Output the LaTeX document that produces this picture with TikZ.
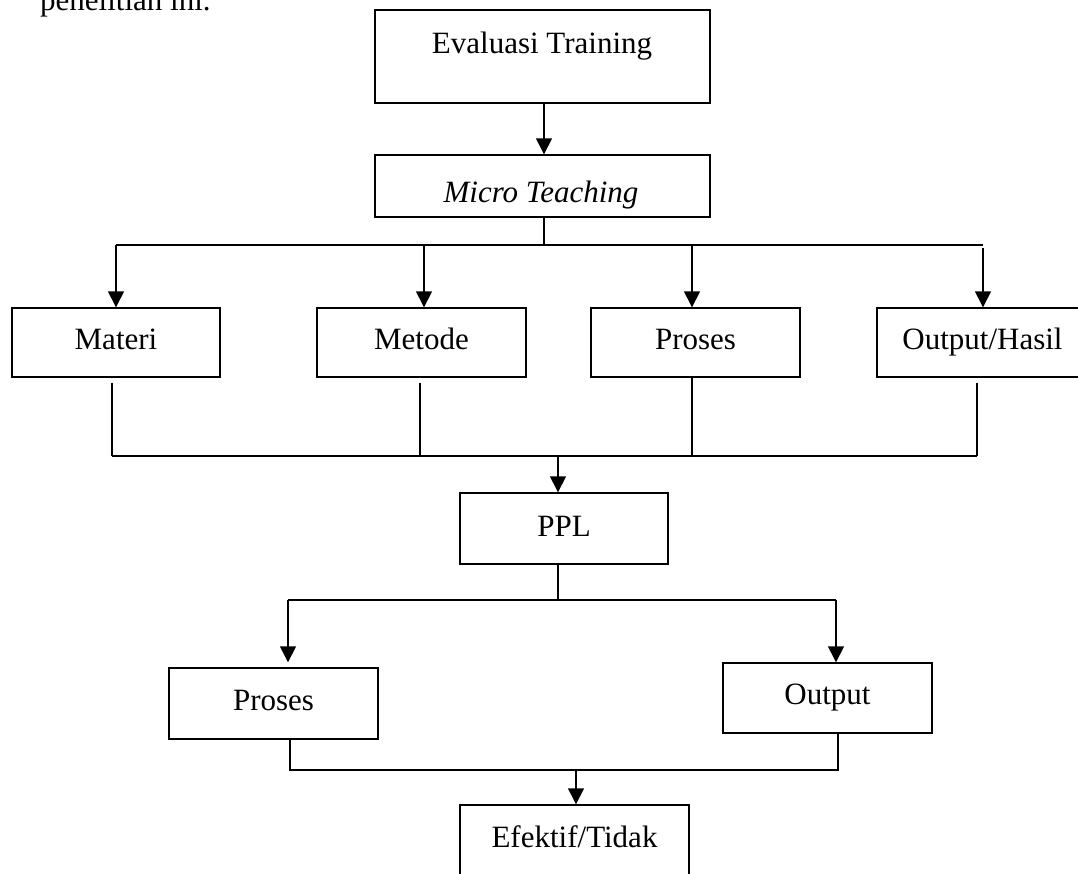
\documentclass[tikz,border=0pt]{standalone}
\usepackage{fontspec}
\setmainfont{Liberation Serif}
\usetikzlibrary{arrows.meta}
\tikzset{
  box/.style={draw=black, line width=1.4pt, rectangle, inner sep=0pt},
  lbl/.style={anchor=base, inner sep=0pt, font=\fontsize{31}{37}\selectfont},
  conn/.style={draw=black, line width=1.4pt},
  arr/.style={conn, -{Triangle[width=16pt,length=16pt]}}
}
\begin{document}
\begin{tikzpicture}[x=1pt,y=-1pt]
\useasboundingbox (0,0) rectangle (1078,873);
% header text (cut at top)
\node[anchor=base west, inner sep=0pt, font=\fontsize{31}{37}\selectfont] (hdr) at (40,10) {penelitian ini.};
% boxes
\node[box, minimum width=335pt, minimum height=93pt] (eval) at (542.5,56.5) {};
\node[lbl] (evalt) at (542,53) {Evaluasi Training};
\node[box, minimum width=335pt, minimum height=62pt] (micro) at (542.5,186) {};
\node[lbl] (microt) at (541,202) {\itshape Micro Teaching};
\node[box, minimum width=208pt, minimum height=69pt] (materi) at (116,342.5) {};
\node[lbl] (materit) at (116,349) {Materi};
\node[box, minimum width=209pt, minimum height=69pt] (metode) at (421.5,342.5) {};
\node[lbl] (metodet) at (421.5,349) {Metode};
\node[box, minimum width=209pt, minimum height=69pt] (proses) at (695.5,342.5) {};
\node[lbl] (prosest) at (695.5,349) {Proses};
\node[box, minimum width=211pt, minimum height=69pt] (hasil) at (982.5,342.5) {};
\node[lbl] (hasilt) at (982.5,349) {Output/Hasil};
\node[box, minimum width=208pt, minimum height=71pt] (ppl) at (564,528.5) {};
\node[lbl] (pplt) at (564,536) {PPL};
\node[box, minimum width=209pt, minimum height=71pt] (proses2) at (273.5,703.5) {};
\node[lbl] (proses2t) at (273.5,710) {Proses};
\node[box, minimum width=209pt, minimum height=70pt] (output) at (827.5,698) {};
\node[lbl] (outputt) at (827.5,704) {Output};
\node[box, minimum width=229pt, minimum height=100pt] (efek) at (574.5,855) {};
\node[lbl] (efekt) at (574.5,847) {Efektif/Tidak};
% junction coordinates
\coordinate (a0) at (544,245);
\coordinate (a1) at (116,245);
\coordinate (a2) at (424,245);
\coordinate (a3) at (692,245);
\coordinate (a4) at (983,245);
\coordinate (b1) at (112,456);
\coordinate (b2) at (420,456);
\coordinate (b3) at (692,456);
\coordinate (b4) at (977,456);
\coordinate (b0) at (558,456);
\coordinate (c0) at (558,600);
\coordinate (c1) at (288,600);
\coordinate (c2) at (836,600);
\coordinate (d1) at (290,770);
\coordinate (d2) at (838,770);
\coordinate (d0) at (576,770);
% connectors
\draw[arr] (eval.south -| a0) -- (micro.north -| a0);
\draw[conn] (micro.south -| a0) -- (a0);
\draw[conn] (a1) -- (a4);
\draw[arr] (a1) -- (materi.north -| a1);
\draw[arr] (a2) -- (metode.north -| a2);
\draw[arr] (a3) -- (proses.north -| a3);
\draw[arr] ([yshift=-3pt]a4) -- (hasil.north -| a4);
\draw[conn] ([yshift=-5pt]materi.south -| b1) -- (b1);
\draw[conn] ([yshift=-5pt]metode.south -| b2) -- (b2);
\draw[conn] (proses.south -| b3) -- (b3);
\draw[conn] ([yshift=-5pt]hasil.south -| b4) -- (b4);
\draw[conn] (b1) -- (b4);
\draw[arr] (b0) -- (ppl.north -| b0);
\draw[conn] (ppl.south -| c0) -- (c0);
\draw[conn] (c1) -- (c2);
\draw[arr] (c1) -- ([yshift=5pt]proses2.north -| c1);
\draw[arr] (c2) -- (output.north -| c2);
\draw[conn] (proses2.south -| d1) -- (d1) -- (d2) -- (output.south -| d2);
\draw[arr] (d0) -- (efek.north -| d0);
\end{tikzpicture}
\end{document}
